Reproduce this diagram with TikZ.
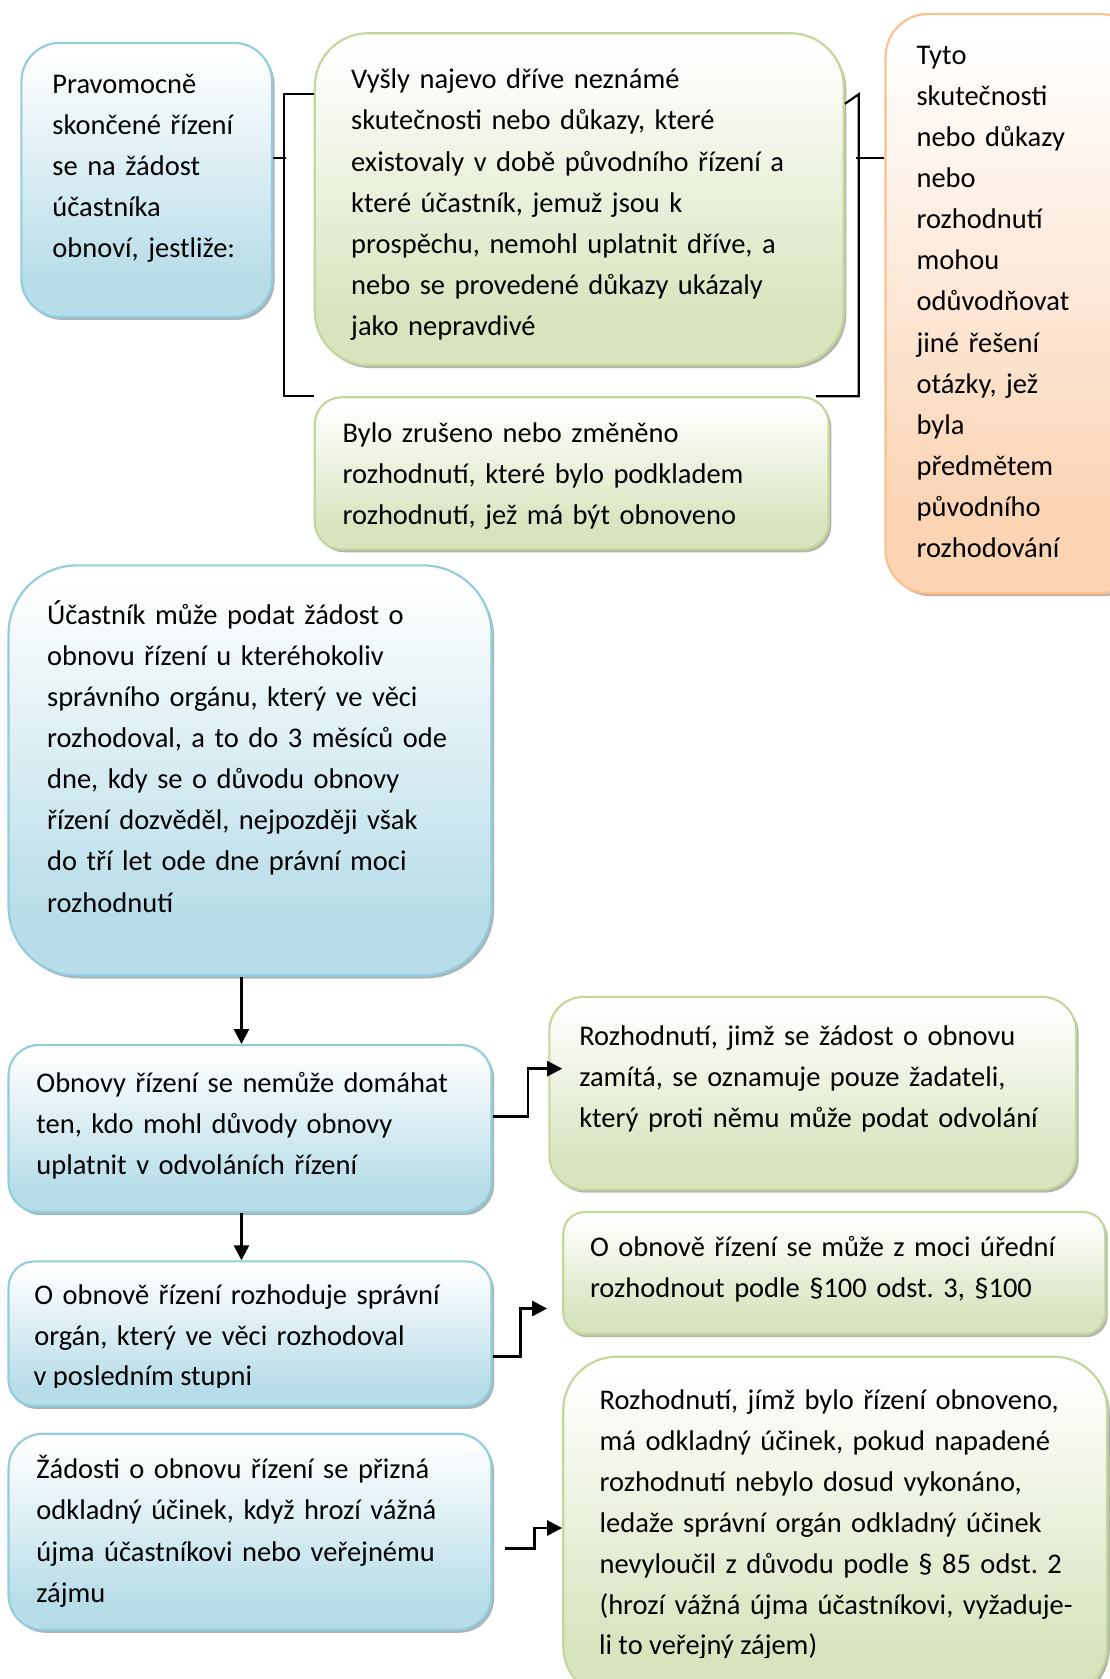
\documentclass[tikz,border=0pt]{standalone}
\usepackage{fontspec}
\setmainfont{Carlito}
\usetikzlibrary{arrows.meta, shadows}

\definecolor{bluefill}{HTML}{B7DDE8}
\definecolor{blueline}{HTML}{93CDDD}
\definecolor{greenfill}{HTML}{D7E4BD}
\definecolor{greenline}{HTML}{C3D69B}
\definecolor{orangefill}{HTML}{FBD4B4}
\definecolor{orangeline}{HTML}{FAC090}

% white at the top, full colour at the bottom
\pgfdeclareverticalshading{blueshade}{100bp}{color(0bp)=(bluefill); color(32bp)=(bluefill); color(73bp)=(white); color(100bp)=(white)}
\pgfdeclareverticalshading{greenshade}{100bp}{color(0bp)=(greenfill); color(32bp)=(greenfill); color(73bp)=(white); color(100bp)=(white)}
\pgfdeclareverticalshading{orangeshade}{100bp}{color(0bp)=(orangefill); color(32bp)=(orangefill); color(73bp)=(white); color(100bp)=(white)}

\begin{document}
\begin{tikzpicture}[
    x=0.5pt, y=-0.5pt,
    boxfont/.style={font=\fontsize{13.3pt}{19.2pt}\selectfont\frenchspacing},
    panel/.style={boxfont, anchor=north west, align=left, text height=0pt, line width=1pt,
        execute at begin node={\rightskip=-20pt plus 2em\relax}},
    bluebox/.style={panel, draw=blueline, shade, shading=blueshade,
        drop shadow={shadow xshift=1.2pt, shadow yshift=-1.4pt, fill=blueline!45!black, opacity=.45}},
    greenbox/.style={panel, draw=greenline, shade, shading=greenshade,
        drop shadow={shadow xshift=1.2pt, shadow yshift=-1.4pt, fill=greenline!45!black, opacity=.45}},
    orangebox/.style={panel, draw=orangeline, shade, shading=orangeshade,
        drop shadow={shadow xshift=1.2pt, shadow yshift=-1.4pt, fill=orangeline!45!black, opacity=.45}},
    cutline/.style={boxfont, anchor=base west, inner sep=0pt},
    arrow/.style={-{Triangle[length=7pt, width=7pt]}, line width=1.25pt},
    link/.style={line width=1pt}
]
\path[use as bounding box, fill=white] (0,0) rectangle (1036,1568);

% top row
\node[bluebox, text width=88pt, inner xsep=14.5pt, inner ysep=23.5pt, text depth=81pt, rounded corners=18pt] (PR) at (19,39)
    {Pravomocně\\ skončené řízení\\ se na žádost\\ účastníka\\ obnoví, jestliže:};
\node[greenbox, text width=213pt, inner xsep=17pt, inner ysep=26pt, text depth=103pt, rounded corners=25pt] (VY) at (293,30)
    {Vyšly najevo dříve neznámé\\ skutečnosti nebo důkazy, které\\ existovaly v době původního řízení a\\ které účastník, jemuž jsou k\\ prospěchu, nemohl uplatnit dříve, a\\ nebo se provedené důkazy ukázaly\\ jako nepravdivé};
\node[greenbox, text width=214pt, inner xsep=13pt, inner ysep=21pt, text depth=29pt, rounded corners=12.5pt] (ZR) at (293,370)
    {Bylo zrušeno nebo změněno\\ rozhodnutí, které bylo podkladem\\ rozhodnutí, jež má být obnoveno};
\node[orangebox, text width=91pt, inner xsep=14.5pt, inner ysep=23.5pt, text depth=223.5pt, rounded corners=20pt] (TY) at (826,12)
    {Tyto\\ skutečnosti\\ nebo důkazy\\ nebo\\ rozhodnutí\\ mohou\\ odůvodňovat\\ jiné řešení\\ otázky, jež\\ byla\\ předmětem\\ původního\\ rozhodování};

% left column
\node[bluebox, text width=189.5pt, inner xsep=18pt, inner ysep=27.5pt, text depth=136.5pt, rounded corners=32pt] (UC) at (7,527)
    {Účastník může podat žádost o\\ obnovu řízení u kteréhokoliv\\ správního orgánu, který ve věci\\ rozhodoval, a to do 3 měsíců ode\\ dne, kdy se o důvodu obnovy\\ řízení dozvěděl, nejpozději však\\ do tří let ode dne právní moci\\ rozhodnutí};
\node[bluebox, text width=199.5pt, inner xsep=13pt, inner ysep=22pt, text depth=34pt, rounded corners=14pt] (OB) at (7,975)
    {Obnovy řízení se nemůže domáhat\\ ten, kdo mohl důvody obnovy\\ uplatnit v odvoláních řízení};
\node[bluebox, text width=201.5pt, inner xsep=12pt, inner ysep=20pt, text depth=27.5pt, rounded corners=12pt] (RO) at (7,1177)
    {O obnově řízení rozhoduje správní\\ orgán, který ve věci rozhodoval};
\node[bluebox, text width=199.5pt, inner xsep=13pt, inner ysep=21pt, text depth=49.5pt, rounded corners=16pt] (ZD) at (7,1338)
    {Žádosti o obnovu řízení se přizná\\ odkladný účinek, když hrozí vážná\\ újma účastníkovi nebo veřejnému\\ zájmu};

% right column
\node[greenbox, text width=218pt, inner xsep=14pt, inner ysep=22.5pt, text depth=45pt, rounded corners=16pt] (ZA) at (512,930)
    {Rozhodnutí, jimž se žádost o obnovu\\ zamítá, se oznamuje pouze žadateli,\\ který proti němu může podat odvolání};
\node[greenbox, text width=228pt, inner xsep=12.5pt, inner ysep=20.5pt, text depth=16pt, rounded corners=10pt] (MO) at (525,1131)
    {O obnově řízení se může z moci úřední\\ rozhodnout podle §100 odst. 3, §100};
\node[greenbox, text width=220pt, inner xsep=17pt, inner ysep=24.5pt, text depth=111pt, rounded corners=25pt] (OD) at (525,1266)
    {Rozhodnutí, jímž bylo řízení obnoveno,\\ má odkladný účinek, pokud napadené\\ rozhodnutí nebylo dosud vykonáno,\\ ledaže správní orgán odkladný účinek\\ nevyloučil z důvodu podle § 85 odst. 2\\ (hrozí vážná újma účastníkovi, vyžaduje-};

% last lines, cut off at the bottom margin of their boxes
\begin{scope}
  \clip (31,1262) rectangle (300,1296);
  \node[cutline] (ROend) at (31,1294) {v posledním stupni};
\end{scope}
\begin{scope}
  \clip (559,1512) rectangle (820,1548);
  \node[cutline] (ODend) at (559,1545.5) {li to veřejný zájem)};
\end{scope}

% brackets
\draw[link] ([yshift=10.25pt]PR.east) -- ++(12,0);
\draw[link] ([yshift=-29pt]VY.north west) -| ([xshift=-14pt]ZR.north west) -- (ZR.north west);
\draw[link] ([yshift=-33.5pt]VY.north east) -- ++(13,-9) |- ([xshift=-6.5pt]ZR.north east);
\draw[link] ([yshift=68pt]TY.west) -- ++(-27,0);

% arrows
\draw[arrow] ([xshift=-4pt]UC.south) -- ([xshift=-4pt]OB.north);
\draw[arrow] ([xshift=-4pt]OB.south) -- ([xshift=-4pt]RO.north);
\draw[arrow] ([yshift=5.75pt]OB.east) -- ++(33,0) |- ([xshift=6.5pt,yshift=11.5pt]ZA.west);
\draw[arrow] ([yshift=-10.75pt]RO.east) -- ++(26,0) |- ([xshift=-7pt,yshift=-16.5pt]MO.west);
\draw[arrow] ([xshift=6pt,yshift=-7.75pt]ZD.east) -- ++(27,0) |- (OD.west);
\end{tikzpicture}
\end{document}
